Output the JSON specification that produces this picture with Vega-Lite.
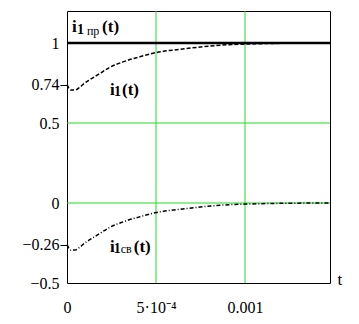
{
  "$schema": "https://vega.github.io/schema/vega-lite/v6.json",
  "width": 263,
  "height": 272,
  "autosize": "none",
  "padding": {"left": 67, "top": 11, "right": 29, "bottom": 41},
  "background": "white",
  "config": {
    "view": {"stroke": "black", "strokeWidth": 1},
    "font": "Liberation Serif",
    "axisX": {"grid": false, "ticks": false, "tickSize": 0, "domain": false, "labelPadding": 29, "labelBaseline": "alphabetic", "labelFont": "Liberation Serif", "labelFontSize": 16, "labelColor": "black", "labelFlush": false, "labelOverlap": false},
    "axisY": {"grid": false, "tickSize": 7, "tickWidth": 1, "labelPadding": 1, "domain": false, "labelFont": "Liberation Serif", "labelFontSize": 16, "labelColor": "black", "labelBaseline": "middle", "labelFlush": false, "labelOverlap": false}
  },
  "datasets": {
    "forced": [{"t": 0, "v": 1}, {"t": 0.0014775, "v": 1}],
    "vgrid": [{"t": 0.0005}, {"t": 0.001}],
    "hgrid": [{"v": 0.5}, {"v": 0}],
    "i1": [
      {"t": 0, "v": 0.74}, {"t": 0.000012, "v": 0.715}, {"t": 0.000022, "v": 0.706},
      {"t": 0.000045, "v": 0.706}, {"t": 0.000073, "v": 0.725}, {"t": 0.000107, "v": 0.756},
      {"t": 0.00013, "v": 0.772}, {"t": 0.000185, "v": 0.81}, {"t": 0.00024, "v": 0.848},
      {"t": 0.000315, "v": 0.882}, {"t": 0.00041, "v": 0.914}, {"t": 0.0005, "v": 0.94},
      {"t": 0.00063, "v": 0.96}, {"t": 0.00075, "v": 0.975}, {"t": 0.00086, "v": 0.986},
      {"t": 0.001, "v": 0.993}, {"t": 0.0012, "v": 0.998}, {"t": 0.0014775, "v": 1.0}
    ],
    "i1sv": [
      {"t": 0, "v": -0.26}, {"t": 0.000012, "v": -0.285}, {"t": 0.000022, "v": -0.294},
      {"t": 0.000045, "v": -0.294}, {"t": 0.000073, "v": -0.275}, {"t": 0.000107, "v": -0.244},
      {"t": 0.00013, "v": -0.228}, {"t": 0.000185, "v": -0.19}, {"t": 0.00024, "v": -0.152},
      {"t": 0.000315, "v": -0.118}, {"t": 0.00041, "v": -0.086}, {"t": 0.0005, "v": -0.06},
      {"t": 0.00063, "v": -0.04}, {"t": 0.00075, "v": -0.025}, {"t": 0.00086, "v": -0.014},
      {"t": 0.001, "v": -0.007}, {"t": 0.0012, "v": -0.002}, {"t": 0.0014775, "v": 0.0}
    ],
    "labels": [
      {"t": 0.000028, "v": 1.069, "txt": "i", "kind": "main"},
      {"t": 0.000056, "v": 1.056, "txt": "1", "kind": "one"},
      {"t": 0.000112, "v": 1.05, "txt": "пр", "kind": "small"},
      {"t": 0.000197, "v": 1.069, "txt": "(t)", "kind": "main"},
      {"t": 0.000242, "v": 0.675, "txt": "i", "kind": "main"},
      {"t": 0.000264, "v": 0.669, "txt": "1", "kind": "one"},
      {"t": 0.000309, "v": 0.675, "txt": "(t)", "kind": "main"},
      {"t": 0.000242, "v": -0.306, "txt": "i", "kind": "main"},
      {"t": 0.000262, "v": -0.3125, "txt": "1", "kind": "one"},
      {"t": 0.000302, "v": -0.3125, "txt": "св", "kind": "small"},
      {"t": 0.000375, "v": -0.306, "txt": "(t)", "kind": "main"}
    ]
  },
  "layer": [
    {"data": {"name": "vgrid"}, "mark": {"type": "rule", "color": "#22dd22", "strokeWidth": 1},
     "encoding": {"x": {"field": "t", "type": "quantitative", "scale": {"domain": [0, 0.0014775], "nice": false, "zero": false}}}},
    {"data": {"name": "hgrid"}, "mark": {"type": "rule", "color": "#22dd22", "strokeWidth": 1},
     "encoding": {"y": {"field": "v", "type": "quantitative", "scale": {"domain": [-0.5, 1.2], "nice": false, "zero": false}}}},
    {"data": {"name": "forced"}, "mark": {"type": "line", "color": "black", "strokeWidth": 2.5},
     "encoding": {
       "x": {"field": "t", "type": "quantitative", "scale": {"domain": [0, 0.0014775], "nice": false, "zero": false},
         "axis": {"values": [0, 0.0005, 0.001],
           "labelExpr": "datum.value == 0 ? '0' : (datum.value < 0.0007 ? '5·10⁻⁴' : '0.001')",
           "title": "t", "titleX": 270, "titleY": 1, "titleAlign": "left", "titleBaseline": "alphabetic",
           "titleFont": "Liberation Serif", "titleFontSize": 17, "titleFontWeight": "normal", "titleColor": "black"}},
       "y": {"field": "v", "type": "quantitative", "scale": {"domain": [-0.5, 1.2], "nice": false, "zero": false},
         "axis": {"values": [1, 0.74, 0.5, 0, -0.26, -0.5],
           "labelExpr": "datum.value > 0.9 ? '1' : datum.value > 0.7 ? '0.74' : datum.value > 0.4 ? '0.5' : datum.value > -0.1 ? '0' : datum.value > -0.4 ? '−0.26' : '−0.5'",
           "tickColor": {"condition": {"test": "abs(datum.value - 0.74) < 0.01 || abs(datum.value + 0.26) < 0.01", "value": "black"}, "value": "transparent"},
           "title": null}}
     }},
    {"data": {"name": "i1"}, "mark": {"type": "line", "color": "black", "strokeWidth": 1.5, "strokeDash": [4, 2], "interpolate": "monotone"},
     "encoding": {
       "x": {"field": "t", "type": "quantitative", "scale": {"domain": [0, 0.0014775], "nice": false, "zero": false}},
       "y": {"field": "v", "type": "quantitative", "scale": {"domain": [-0.5, 1.2], "nice": false, "zero": false}}}},
    {"data": {"name": "i1sv"}, "mark": {"type": "line", "color": "black", "strokeWidth": 1.5, "strokeDash": [4, 2, 1, 2], "interpolate": "monotone"},
     "encoding": {
       "x": {"field": "t", "type": "quantitative", "scale": {"domain": [0, 0.0014775], "nice": false, "zero": false}},
       "y": {"field": "v", "type": "quantitative", "scale": {"domain": [-0.5, 1.2], "nice": false, "zero": false}}}},
    {"data": {"name": "labels"}, "transform": [{"filter": "datum.kind == 'main'"}],
     "mark": {"type": "text", "align": "left", "baseline": "alphabetic", "font": "Liberation Serif", "fontSize": 17, "fontWeight": "bold", "color": "black"},
     "encoding": {
       "x": {"field": "t", "type": "quantitative", "scale": {"domain": [0, 0.0014775], "nice": false, "zero": false}},
       "y": {"field": "v", "type": "quantitative", "scale": {"domain": [-0.5, 1.2], "nice": false, "zero": false}},
       "text": {"field": "txt"}}},
    {"data": {"name": "labels"}, "transform": [{"filter": "datum.kind == 'one'"}],
     "mark": {"type": "text", "align": "left", "baseline": "alphabetic", "font": "Liberation Serif", "fontSize": 14, "fontWeight": "bold", "color": "black"},
     "encoding": {
       "x": {"field": "t", "type": "quantitative", "scale": {"domain": [0, 0.0014775], "nice": false, "zero": false}},
       "y": {"field": "v", "type": "quantitative", "scale": {"domain": [-0.5, 1.2], "nice": false, "zero": false}},
       "text": {"field": "txt"}}},
    {"data": {"name": "labels"}, "transform": [{"filter": "datum.kind == 'small'"}],
     "mark": {"type": "text", "align": "left", "baseline": "alphabetic", "font": "Liberation Serif", "fontSize": 12, "color": "black"},
     "encoding": {
       "x": {"field": "t", "type": "quantitative", "scale": {"domain": [0, 0.0014775], "nice": false, "zero": false}},
       "y": {"field": "v", "type": "quantitative", "scale": {"domain": [-0.5, 1.2], "nice": false, "zero": false}},
       "text": {"field": "txt"}}}
  ]
}
